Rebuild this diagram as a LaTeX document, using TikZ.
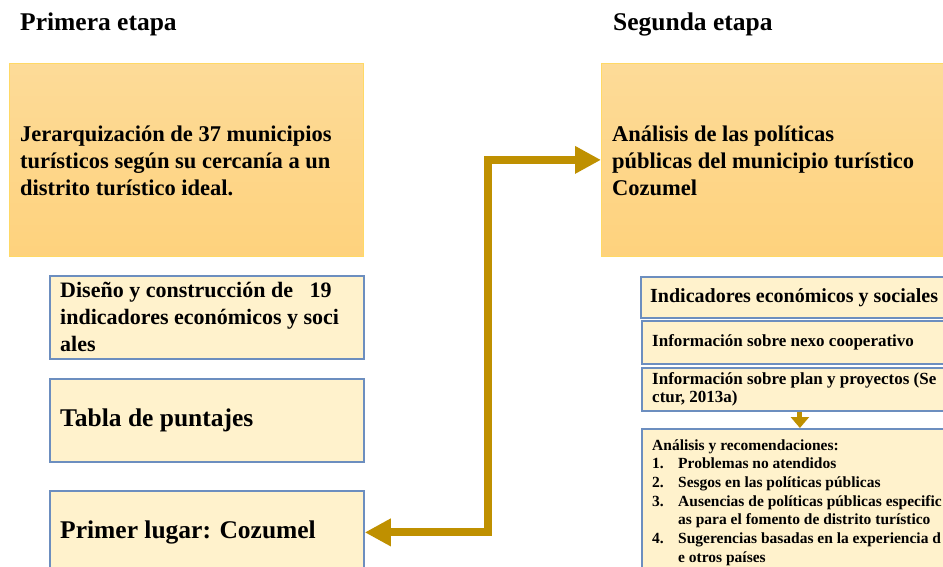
\documentclass[tikz,border=0pt]{standalone}
\usepackage{fontspec}
\setmainfont{Liberation Serif}
\usetikzlibrary{arrows.meta}
\definecolor{bigtop}{RGB}{253,219,152}
\definecolor{bigbot}{RGB}{254,210,125}
\definecolor{bigedge}{RGB}{255,217,102}
\definecolor{smallfill}{RGB}{255,242,204}
\definecolor{smalledge}{RGB}{108,142,191}
\definecolor{gold}{RGB}{191,144,0}
\tikzset{
  bigbox/.style={draw=bigedge, line width=0.8pt, top color=bigtop, bottom color=bigbot, anchor=north west, inner sep=0pt},
  smallbox/.style={draw=smalledge, line width=1.8pt, fill=smallfill, anchor=north west, inner sep=0pt},
  txt/.style={inner sep=0pt, align=left, text=black, anchor=west},
  title/.style={inner sep=0pt, anchor=base west, font=\fontsize{25.5}{30}\selectfont\bfseries},
  bigarrow/.style={draw=gold, line width=8pt, line join=miter, {Triangle[length=26pt,width=26pt]}-{Triangle[length=26pt,width=26pt]}},
  smallarrow/.style={draw=gold, line width=5pt, -{Triangle[length=11pt,width=18pt]}}
}
\begin{document}
\begin{tikzpicture}[x=1pt,y=-1pt]
\useasboundingbox (0,0) rectangle (943,567);
\fill[white] (0,0) rectangle (943,567);
\clip (0,0) rectangle (943,567);

% titles
\node[title] (tt1) at (20,31) {Primera etapa};
\node[title] (tt2) at (613,31) {Segunda etapa};

% big boxes
\node[bigbox, minimum width=354pt, minimum height=193pt] (b1) at (9,63) {};
\node[bigbox, minimum width=400pt, minimum height=193pt] (b2) at (601,63) {};

% left small boxes
\node[smallbox, minimum width=314pt, minimum height=83pt] (b3) at (49,275) {};
\node[smallbox, minimum width=314pt, minimum height=83pt] (b4) at (49,378) {};
\node[smallbox, minimum width=314pt, minimum height=83pt] (b5) at (49,490) {};

% right small boxes
\node[smallbox, minimum width=317pt, minimum height=41pt] (b6) at (640,276) {};
\node[smallbox, minimum width=316pt, minimum height=43pt] (b7) at (641,320) {};
\node[smallbox, minimum width=316pt, minimum height=43pt] (b8) at (641,367) {};
\node[smallbox, minimum width=316pt, minimum height=147pt] (b9) at (641,428) {};

% texts
\node[txt, font=\fontsize{22.5}{27}\selectfont\bfseries] (t1) at ([xshift=11pt,yshift=-1pt]b1.west)
  {Jerarquización de 37 municipios\\turísticos según su cercanía a un\\distrito turístico ideal.};
\node[txt, font=\fontsize{22.5}{27}\selectfont\bfseries] (t2) at ([xshift=11pt,yshift=-1pt]b2.west)
  {Análisis de las políticas\\públicas del municipio turístico\\Cozumel};
\node[txt, font=\fontsize{22}{27}\selectfont\bfseries] (t3) at ([xshift=11pt]b3.west)
  {Diseño y construcción de\ \ \ 19\\indicadores económicos y soci\\ales};
\node[txt, font=\fontsize{25.5}{30}\selectfont\bfseries] (t4) at ([xshift=11pt]b4.west)
  {Tabla de puntajes};
\node[txt, font=\fontsize{25.5}{30}\selectfont\bfseries] (t5) at ([xshift=11pt]b5.west)
  {Primer lugar: Cozumel};
\node[txt, font=\fontsize{20}{24}\selectfont\bfseries] (t6) at ([xshift=10pt]b6.west)
  {Indicadores económicos y sociales};
\node[txt, font=\fontsize{17}{18}\selectfont\bfseries] (t7) at ([xshift=11pt]b7.west)
  {Información sobre nexo cooperativo};
\node[txt, font=\fontsize{17}{18}\selectfont\bfseries] (t8) at ([xshift=11pt]b8.west)
  {Información sobre plan y proyectos (Se\\ctur, 2013a)};
\node[txt, font=\fontsize{15.5}{18.67}\selectfont\bfseries] (t9) at ([xshift=11pt]b9.west)
  {Análisis y recomendaciones:\\
   \makebox[26pt][l]{1.}Problemas no atendidos\\
   \makebox[26pt][l]{2.}Sesgos en las políticas públicas\\
   \makebox[26pt][l]{3.}Ausencias de políticas públicas especific\\
   \hspace*{26pt}as para el fomento de distrito turístico\\
   \makebox[26pt][l]{4.}Sugerencias basadas en la experiencia d\\
   \hspace*{26pt}e otros países};

% connectors
\draw[bigarrow] (b5.east) -- ++(123,0) |- (b2.west);
\draw[smallarrow] (b8.south) -- (b9.north);
\end{tikzpicture}
\end{document}
